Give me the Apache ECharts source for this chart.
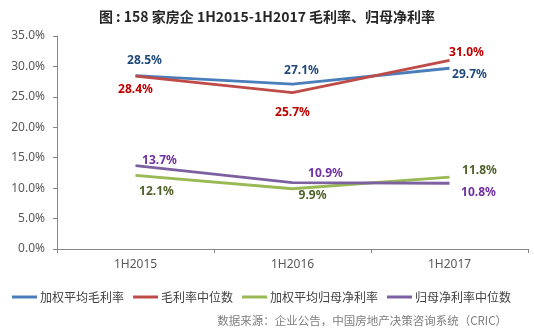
<!DOCTYPE html>
<html><head><meta charset="utf-8">
<script src="https://cdn.jsdelivr.net/npm/echarts@6/dist/echarts.min.js"></script>
<style>html,body{margin:0;padding:0;background:#fff}#c{width:534px;height:335px}</style>
</head><body><div id="c"></div>
<script>
const categories = ['1H2015', '1H2016', '1H2017'];
const seriesNames = ['加权平均毛利率', '毛利率中位数', '加权平均归母净利率', '归母净利率中位数'];
const weightedGross = [28.5, 27.1, 29.7];
const medianGross = [28.4, 25.7, 31.0];
const weightedNet = [12.1, 9.9, 11.8];
const medianNet = [13.7, 10.9, 10.8];
const yTicks = [0, 5, 10, 15, 20, 25, 30, 35];

const lineColors = ['#4A7EBB', '#BE4B48', '#98B954', '#7D60A0'];
const labelColors = ['#1F497D', '#C00000', '#4F6228', '#7030A0'];
const offsets = [
  [[9, -15], [9, -13], [20, 6]],
  [[0, 13], [0, 20], [17, -8]],
  [[21, 16], [20, 7], [30, -7]],
  [[24, -5], [33, -9], [29, 9]]
];
const values = [weightedGross, medianGross, weightedNet, medianNet];

const chart = echarts.init(document.getElementById('c'), null, {renderer: 'canvas'});
const series = values.map((vals, i) => ({
  name: seriesNames[i],
  type: 'line',
  symbol: 'circle',
  symbolSize: 0.1,
  showSymbol: true,
  lineStyle: {color: lineColors[i], width: 2.8},
  itemStyle: {color: lineColors[i]},
  color: lineColors[i],
  data: vals.map((v, j) => ({
    value: v,
    label: {
      show: true, position: 'inside', offset: offsets[i][j],
      formatter: (p) => p.value.toFixed(1) + '%',
      color: labelColors[i], fontSize: 12, fontWeight: 'bold',
      fontFamily: 'Noto Sans'
    }
  })),
  emphasis: {disabled: true},
  animation: false
}));

chart.setOption({
  animation: false,
  backgroundColor: '#fff',
  title: {
    text: '图 : 158 家房企 1H2015-1H2017 毛利率、归母净利率',
    left: 'center', top: 5,
    textStyle: {fontSize: 14, fontWeight: 'bold', color: '#262626', fontFamily: 'Noto Sans CJK SC'}
  },
  grid: {left: 57, right: 6, top: 36, bottom: 86},
  xAxis: {
    type: 'category', data: categories, boundaryGap: true,
    axisLine: {lineStyle: {color: '#868686', width: 1}},
    axisTick: {show: true, length: 4, lineStyle: {color: '#868686'}},
    axisLabel: {color: '#595959', fontSize: 12, margin: 10, fontFamily: 'Noto Sans'}
  },
  yAxis: {
    type: 'value', min: yTicks[0], max: yTicks[yTicks.length - 1], interval: 5,
    axisLine: {show: true, lineStyle: {color: '#868686', width: 1}},
    axisTick: {show: true, length: 4, lineStyle: {color: '#868686'}},
    splitLine: {show: false},
    axisLabel: {color: '#595959', fontSize: 12, margin: 12, fontFamily: 'Noto Sans',
      formatter: (v) => v.toFixed(1) + '%'}
  },
  legend: {
    data: seriesNames, top: 286, left: 7,
    itemWidth: 25, itemHeight: 3, itemGap: 9,
    icon: 'rect',
    textStyle: {color: '#404040', fontSize: 12, fontFamily: 'Noto Sans CJK SC', padding: [0,0,0,-2]}
  },
  graphic: [{
    type: 'text', right: 27, top: 315,
    style: {text: '数据来源：企业公告，中国房地产决策咨询系统（CRIC）', fill: '#7F7F7F',
      font: '11.5px "Noto Sans CJK SC"'}
  }],
  series: series
});
</script></body></html>
